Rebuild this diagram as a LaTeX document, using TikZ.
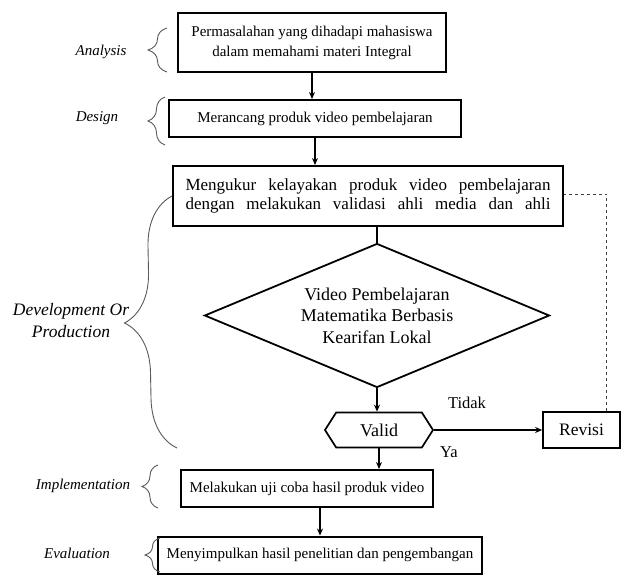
\documentclass[tikz,border=0pt]{standalone}
\usepackage{fontspec}
\setmainfont{Liberation Serif}
\usepackage{tikz}
\usetikzlibrary{shapes,arrows,arrows.meta,positioning,calc,decorations.pathreplacing}

\begin{document}
\begin{tikzpicture}[x=1pt, y=-1pt,
    box/.style={rectangle, draw=black, line width=2pt, inner sep=2pt, align=center, font=\fontsize{15}{20}\selectfont},
    decision/.style={diamond, aspect=2.4, draw=black, line width=1.8pt, inner sep=0pt, align=center, font=\fontsize{18}{21.5}\selectfont},
    check/.style={signal, signal to=west and east, signal pointer angle=115, draw=black, line width=1.7pt, inner sep=0pt, font=\fontsize{18}{20}\selectfont},
    phase/.style={font=\fontsize{15}{18}\selectfont\itshape, align=center},
    answer/.style={font=\fontsize{16.5}{18}\selectfont},
    arrow/.style={->, >={Stealth[length=7pt,width=6pt]}, line width=1.3pt},
    bracket/.style={decorate, decoration={brace}, draw=black!65, line width=0.9pt}
]
    \useasboundingbox (0,0) rectangle (622,574);

    % Main steps
    \node[box, minimum width=268pt, minimum height=59pt] (problem) at (312,42.5) {Permasalahan yang dihadapi mahasiswa\\dalam memahami materi Integral};
    \node[box, minimum width=292pt, minimum height=37pt] (design) at (315,118.5) {Merancang produk video pembelajaran};
    \node[box, minimum width=390pt, minimum height=60pt, font=\fontsize{17}{19}\selectfont] (measure) at (368,196) {\makebox[365pt][s]{Mengukur kelayakan produk video pembelajaran}\\\makebox[365pt][s]{dengan melakukan validasi ahli media dan ahli}};
    \node[decision, minimum width=345pt, minimum height=144pt] (video) at (377,315.5) {Video Pembelajaran\\Matematika Berbasis\\Kearifan Lokal};
    \node[check, minimum width=108pt, minimum height=35pt] (valid) at (379,430) {Valid};
    \node[box, line width=1.7pt, minimum width=77pt, minimum height=36pt, font=\fontsize{17.5}{20}\selectfont] (revisi) at (581.5,430) {Revisi};
    \node[box, minimum width=252pt, minimum height=37pt] (trial) at (307,488.5) {Melakukan uji coba hasil produk video};
    \node[box, minimum width=324pt, minimum height=37pt] (conclude) at (320,555) {Menyimpulkan hasil penelitian dan pengembangan};

    % Answers
    \node[answer] (tidak) at (467,403) {Tidak};
    \node[answer] (ya) at (449,452) {Ya};

    % Phase labels
    \node[phase] (lanalysis) at (101,52) {Analysis};
    \node[phase] (ldesign) at (97,118) {Design};
    \node[phase, font=\fontsize{17.5}{22}\selectfont\itshape] (ldevelop) at (71,321) {Development Or\\Production};
    \node[phase] (limplement) at (83,486) {Implementation};
    \node[phase] (levaluate) at (77,553) {Evaluation};

    % Arrows
    \draw[arrow] (problem.south) -- (problem.south |- design.north);
    \draw[arrow] (design.south) -- (design.south |- measure.north);
    \draw[line width=1.6pt] (video.north |- measure.south) -- (video.north);
    \draw[arrow] (video.south) -- (video.south |- valid.north);
    \draw[arrow] (valid.east) -- (revisi.west);
    \draw[arrow] (valid.south) -- (valid.south |- trial.north);
    \draw[arrow] (conclude.north |- trial.south) -- (conclude.north);
    \draw[dashed, line width=0.9pt, draw=black!75] ([xshift=25pt]revisi.north) |- ([yshift=2pt]measure.east);

    % Braces
    \draw[bracket, decoration={amplitude=19pt}] (167,72) -- (167,28);
    \draw[bracket, decoration={amplitude=17pt}] (165,145) -- (165,97);
    \draw[bracket, decoration={amplitude=50pt}] (177,448) -- (measure.west);
    \draw[bracket, decoration={amplitude=16pt}] (158,508) -- (158,465);
    \draw[bracket, decoration={amplitude=15pt}] (160,572) -- (160,538);
\end{tikzpicture}
\end{document}
